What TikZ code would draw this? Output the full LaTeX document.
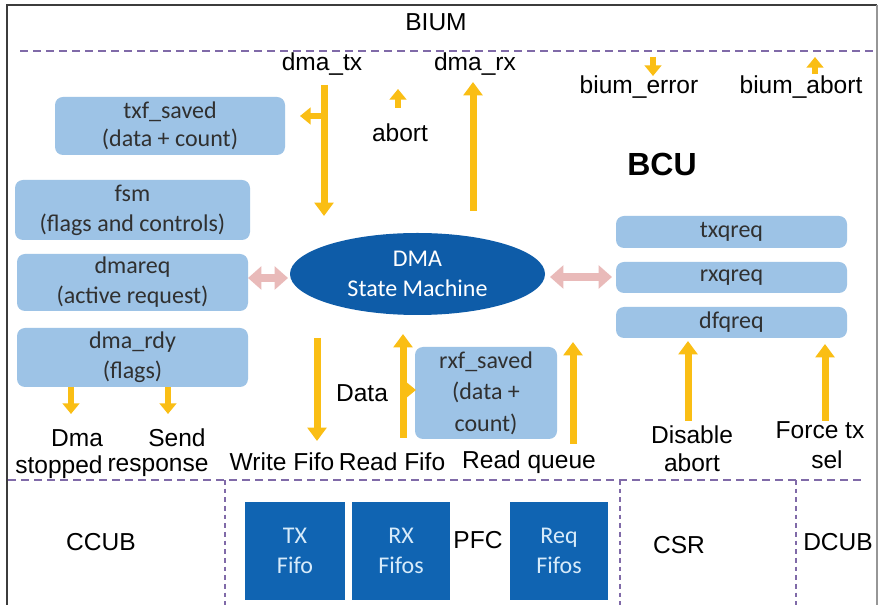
\documentclass[tikz,border=0pt]{standalone}
\usepackage{fontspec}
\setmainfont{Liberation Sans}
\newfontfamily\boxfont{Carlito}
\usetikzlibrary{arrows.meta,shapes.geometric}

\definecolor{gold}{RGB}{250,190,20}
\definecolor{lightbox}{RGB}{157,195,230}
\definecolor{boxtext}{RGB}{48,48,48}
\definecolor{dmablue}{RGB}{14,92,168}
\definecolor{fifoblue}{RGB}{16,100,178}
\definecolor{fifotext}{RGB}{215,235,250}
\definecolor{pinkc}{RGB}{233,186,185}
\definecolor{divcol}{RGB}{128,106,168}
\definecolor{framedark}{RGB}{60,60,60}
\definecolor{framelight}{RGB}{150,150,150}

\begin{document}
\begin{tikzpicture}[x=0.75pt,y=-0.75pt,
  lbl/.style={font=\fontsize{18.4}{21}\selectfont, inner sep=0pt, text=black},
  title/.style={font=\bfseries\fontsize{24}{28}\selectfont, inner sep=0pt},
  box/.style={rounded corners=6pt, fill=lightbox, text=boxtext,
    font=\boxfont\fontsize{18}{22.5}\selectfont, align=center, inner sep=0pt},
  fifo/.style={fill=fifoblue, text=fifotext, font=\boxfont\fontsize{18}{22.5}\selectfont,
    align=center, inner sep=0pt, minimum height=73.5pt},
  hdiv/.style={draw=divcol, line width=1.5pt, dash pattern=on 6pt off 3.75pt},
  vdiv/.style={draw=divcol, line width=1.1pt, dash pattern=on 3.5pt off 3pt},
  ya/.style={draw=gold, line width=5.25pt, -{Triangle[width=14pt,length=10pt]}},
  yas/.style={draw=gold, line width=5pt, -{Triangle[width=12.5pt,length=8pt]}},
  pk/.style={draw=pinkc, line width=6.5pt,
    {Triangle[width=17pt,length=10pt]}-{Triangle[width=17pt,length=10pt]}}]

\useasboundingbox (0,0) rectangle (882,605);
\clip (0,0) rectangle (882,605);
\fill[white] (0,0) rectangle (882,605);

% outer frame
\draw[framedark, line width=1.6pt] (7,620) -- (7,5) -- (877,5);
\draw[framelight, line width=1.2pt] (877,5) -- (877,620);

% region dividers
\draw[hdiv] (20,51) -- (878,51);
\draw[hdiv] (8,480) -- (862,480);
\draw[vdiv] (225,480) -- (225,605);
\draw[vdiv] (620,480) -- (620,605);
\draw[vdiv] (796,480) -- (796,605);

% region titles
\node[lbl] (bium) at (436,22) {BIUM};
\node[title] (bcu) at (662,164) {BCU};
\node[lbl] (ccub) at (101,542) {CCUB};
\node[lbl] (pfc) at (478,540) {PFC};
\node[lbl] (csr) at (679,545) {CSR};
\node[lbl] (dcub) at (838,542) {DCUB};

% BCU blocks
\node[box, minimum width=172.5pt, minimum height=43.5pt, font=\boxfont\fontsize{18}{21}\selectfont] (txf) at (170,126) {txf\_saved\\(data + count)};
\node[box, minimum width=176.25pt, minimum height=45pt] (fsm) at (132.5,210) {fsm\\(flags and controls)};
\node[box, minimum width=173.25pt, minimum height=42.75pt] (dmareq) at (132.5,282.5) {dmareq\\(active request)};
\node[box, minimum width=173.25pt, minimum height=44.25pt] (dmardy) at (132.5,357.5) {dma\_rdy\\(flags)};
\node[box, minimum width=173.25pt, minimum height=24pt] (txq) at (731.5,232) {txqreq};
\node[box, minimum width=173.25pt, minimum height=23.25pt] (rxq) at (731.5,277.5) {rxqreq};
\node[box, minimum width=173.25pt, minimum height=23.25pt] (dfq) at (731.5,322.5) {dfqreq};
\node[box, minimum width=106.5pt, minimum height=69pt, font=\boxfont\fontsize{18}{23.6}\selectfont] (rxf) at (486,393) {rxf\_saved\\(data +\\count)};
\node[ellipse, fill=dmablue, text=white, inner sep=0pt, minimum width=191.25pt, minimum height=61.5pt,
  align=center, font=\boxfont\fontsize{18}{22.5}\selectfont] (dma) at (417.5,274) {DMA\\State Machine};

% PFC fifos
\node[fifo, minimum width=75pt] (txfifo) at (295,551) {TX\\Fifo};
\node[fifo, minimum width=73.5pt] (rxfifo) at (401,551) {RX\\Fifos};
\node[fifo, minimum width=73.5pt] (reqfifo) at (559,551) {Req\\Fifos};

% signal labels
\node[lbl] (ltx) at (322,64) {dma\_tx};
\node[lbl] (lrx) at (475,64) {dma\_rx};
\node[lbl] (labort) at (400,133) {abort};
\node[lbl] (lerr) at (639,87) {bium\_error};
\node[lbl] (lbab) at (801,87) {bium\_abort};
\node[lbl] (ldata) at (362,393) {Data};
\node[lbl] (ldma) at (77,438) {Dma};
\node[lbl] (lstop) at (59,467) {stopped};
\node[lbl] (lsend) at (177,438) {Send};
\node[lbl] (lresp) at (158,467) {response};
\node[lbl] (lwf) at (282,462) {Write Fifo};
\node[lbl] (lrf) at (392,462) {Read Fifo};
\node[lbl] (lrq) at (529,462) {Read queue};
\node[lbl] (ldis) at (692,435) {Disable};
\node[lbl] (ldab) at (692,463) {abort};
\node[lbl] (lforce) at (820,430) {Force tx};
\node[lbl] (lsel) at (827,460) {sel};

% arrow end points
\coordinate (txTop) at (324,85);
\coordinate (txBot) at (324,216);
\coordinate (txMid) at (324,116);
\coordinate (txfIn) at (300,116);
\coordinate (abLo) at (398,108);
\coordinate (abHi) at (398,89);
\coordinate (rxLo) at (473,211);
\coordinate (rxHi) at (473,82);
\coordinate (errHi) at (653,57);
\coordinate (errLo) at (653,76);
\coordinate (babLo) at (815,74);
\coordinate (babHi) at (815,57);
\coordinate (wfTop) at (317,338);
\coordinate (wfBot) at (317,441);
\coordinate (rfBot) at (403,438);
\coordinate (rfTop) at (403,334);
\coordinate (rfMid) at (403,390);
\coordinate (rfIn) at (416,390);
\coordinate (rqBot) at (573,444);
\coordinate (rqTop) at (573,342);
\coordinate (disBot) at (688,421);
\coordinate (disTop) at (688,341);
\coordinate (foBot) at (825,421);
\coordinate (foTop) at (825,344);
\coordinate (stTop) at (71,387);
\coordinate (stBot) at (71,414);
\coordinate (srTop) at (168,387);
\coordinate (srBot) at (168,414);
\coordinate (pkL1) at (248,278);
\coordinate (pkL2) at (288,278);
\coordinate (pkR1) at (550,277);
\coordinate (pkR2) at (612,277);

% data and control arrows
\draw[ya] (txTop) -- (txBot);
\draw[yas] (txMid) -- (txfIn);
\draw[yas] (abLo) -- (abHi);
\draw[ya] (rxLo) -- (rxHi);
\draw[yas] (errHi) -- (errLo);
\draw[yas] (babLo) -- (babHi);
\draw[ya] (wfTop) -- (wfBot);
\draw[ya] (rfBot) -- (rfTop);
\draw[yas] (rfMid) -- (rfIn);
\draw[ya] (rqBot) -- (rqTop);
\draw[ya] (disBot) -- (disTop);
\draw[ya] (foBot) -- (foTop);
\draw[yas] (stTop) -- (stBot);
\draw[yas] (srTop) -- (srBot);

% request exchange with the state machine
\draw[pk] (pkL1) -- (pkL2);
\draw[pk] (pkR1) -- (pkR2);
\end{tikzpicture}
\end{document}
